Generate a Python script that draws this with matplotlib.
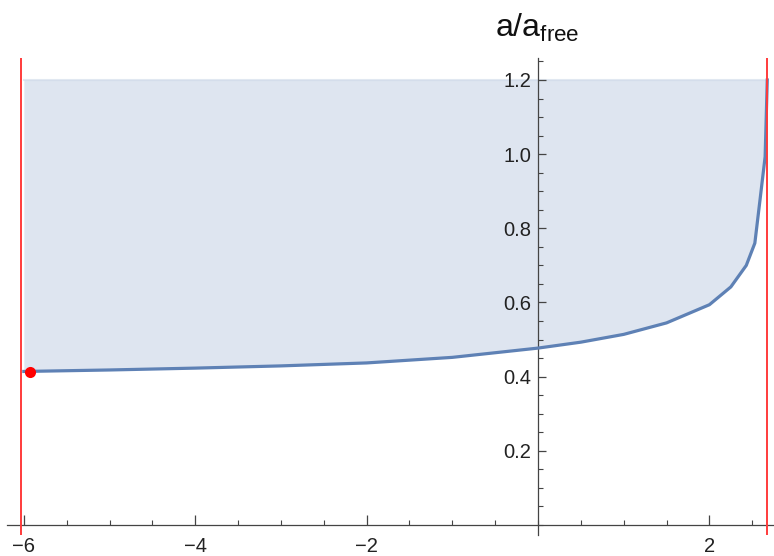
import numpy as np
import matplotlib
matplotlib.use("Agg")
import matplotlib.pyplot as plt
from matplotlib.ticker import MultipleLocator, FixedLocator

plt.rcParams['font.family'] = ['Liberation Sans', 'DejaVu Sans']
plt.rcParams['mathtext.fontset'] = 'custom'
plt.rcParams['mathtext.rm'] = 'Liberation Sans'
plt.rcParams['mathtext.it'] = 'Liberation Sans'

# curve samples
x_vals = [-6.0, -5.0, -4.0, -3.0, -2.0, -1.0, 0.0, 0.5, 1.0, 1.5, 2.0,
          2.25, 2.43, 2.53, 2.59, 2.65, 2.675]
y_vals = [0.414, 0.418, 0.423, 0.429, 0.437, 0.452, 0.477, 0.493, 0.514,
          0.545, 0.594, 0.642, 0.700, 0.760, 0.876, 0.993, 1.2]

y_top = 1.2                 # filling goes up to this level
bounds = [-6.03, 2.667]     # vertical red lines
marker_pt = (-5.93, 0.413)  # red dot

x_ticks = [-6, -4, -2, 2]
y_ticks = [0.2, 0.4, 0.6, 0.8, 1.0, 1.2]

blue = (0.368417, 0.506779, 0.709798)

fig = plt.figure(figsize=(7.74, 5.56), dpi=100)
ax = fig.add_axes([0.00866, 0.0378, 0.9915, 0.857])
ax.set_xlim(-6.2, 2.755)
ax.set_ylim(-0.027, 1.258)

ax.fill_between(x_vals, y_vals, y_top, color=blue, alpha=0.2, lw=0, zorder=1)
ax.plot([x_vals[0], x_vals[-1]], [y_top, y_top], color=blue, alpha=0.18,
        lw=1.5, zorder=1)
ax.plot(x_vals, y_vals, color=blue, lw=2.3, zorder=3, solid_joinstyle='round')

for b in bounds:
    ax.axvline(b, color='#ff3b3b', lw=1.4, zorder=4)

ax.plot([marker_pt[0]], [marker_pt[1]], 'o', color='#ff0000', ms=8,
        mec='none', zorder=5)

# axes through the origin
for side in ['top', 'right']:
    ax.spines[side].set_visible(False)
ax.spines['left'].set_position(('data', 0))
ax.spines['bottom'].set_position(('data', 0))
for side in ['left', 'bottom']:
    ax.spines[side].set_color('#444444')
    ax.spines[side].set_linewidth(0.9)
ax.patch.set_alpha(0)

ax.xaxis.set_major_locator(FixedLocator(x_ticks))
ax.xaxis.set_minor_locator(MultipleLocator(0.5))
ax.yaxis.set_major_locator(FixedLocator(y_ticks))
ax.yaxis.set_minor_locator(MultipleLocator(0.05))
ax.set_xticklabels(['\u2212' + str(abs(t)) if t < 0 else str(t) for t in x_ticks])
ax.set_yticklabels([f'{t:.1f}' for t in y_ticks])

ax.tick_params(axis='x', which='major', direction='in', length=7, width=0.9,
               color='#444444', labelsize=14.5, pad=8.5, labelcolor='#222222')
ax.tick_params(axis='x', which='minor', direction='in', length=3.5, width=0.8,
               color='#444444')
ax.tick_params(axis='y', which='major', direction='in', length=6, width=0.9,
               color='#444444', labelsize=14.5, pad=5, labelcolor='#222222')
ax.tick_params(axis='y', which='minor', direction='in', length=3.8, width=0.8,
               color='#444444')

fig.text(537.5 / 774, 1 - 28 / 556, r'$\mathregular{a/a_{free}}$',
         ha='center', va='center', fontsize=23, color='#111111')

fig.savefig('out.png', dpi=100)
